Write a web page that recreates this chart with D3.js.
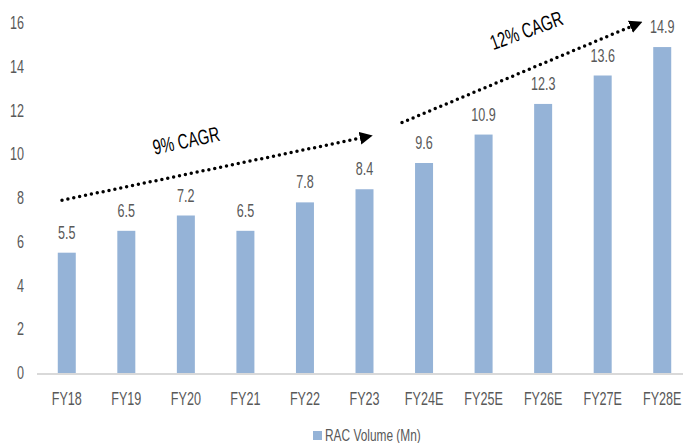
<!DOCTYPE html>
<html>
<head>
<meta charset="utf-8">
<script src="https://cdn.jsdelivr.net/npm/d3@7"></script>
<style>
  body { margin: 0; background: #fff; }
  text { font-family: "Liberation Sans", Arial, sans-serif; }
</style>
</head>
<body>
<div id="chart"></div>
<script>
"use strict";

const years = ['FY18', 'FY19', 'FY20', 'FY21', 'FY22', 'FY23', 'FY24E', 'FY25E', 'FY26E', 'FY27E', 'FY28E'];
const volumes = [5.5, 6.5, 7.2, 6.5, 7.8, 8.4, 9.6, 10.9, 12.3, 13.6, 14.9];
const yTicks = [0, 2, 4, 6, 8, 10, 12, 14, 16];
const seriesName = 'RAC Volume (Mn)';

// arrows given as [band index, value] pairs
const cagrArrows = [
  { label: '9% CAGR', from: [-0.08, 7.9], to: [5.13, 10.85], at: [2.03, 10.3], tilt: -12 },
  { label: '12% CAGR', from: [5.63, 11.45], to: [9.66, 16.05], at: [7.76, 15.35], tilt: -20 }
];

const width = 683;
const height = 443;
const margin = { top: 23, left: 37 };
const baseline = 373;
const squeeze = 0.7; // the reference uses a condensed face

function place(x, y, rot) {
  return 'translate(' + x + ',' + y + ')' + (rot ? ' rotate(' + rot + ')' : '') + ' scale(' + squeeze + ',1)';
}

const svg = d3.select('#chart')
  .append('svg')
  .attr('width', width)
  .attr('height', height);

const x = d3.scaleBand()
  .domain(years)
  .range([margin.left, 692]);

const y = d3.scaleLinear()
  .domain([0, 16])
  .range([baseline, margin.top]);

const xc = i => x(years[0]) + x.bandwidth() * (i + 0.5);

// y tick labels
svg.append('g')
  .selectAll('text')
  .data(yTicks)
  .join('text')
  .attr('transform', d => place(24, y(d) + 6))
  .attr('text-anchor', 'end')
  .attr('fill', '#595959')
  .attr('font-size', 18)
  .text(d => d);

const barW = 18;

svg.append('g')
  .selectAll('rect')
  .data(volumes)
  .join('rect')
  .attr('x', (d, i) => x(years[i]) + x.bandwidth() / 2 - barW / 2)
  .attr('y', d => y(d))
  .attr('width', barW)
  .attr('height', d => y(0) - y(d))
  .attr('fill', '#95b3d7');

// baseline
svg.append('line')
  .attr('x1', margin.left)
  .attr('x2', width)
  .attr('y1', y(0) + 1)
  .attr('y2', y(0) + 1)
  .attr('stroke', '#d9d9d9')
  .attr('stroke-width', 2);

// value labels
svg.append('g')
  .selectAll('text')
  .data(volumes)
  .join('text')
  .attr('transform', (d, i) => place(x(years[i]) + x.bandwidth() / 2, y(d) - 14))
  .attr('text-anchor', 'middle')
  .attr('fill', '#595959')
  .attr('font-size', 18)
  .text(d => d.toFixed(1));

// category labels
svg.append('g')
  .selectAll('text')
  .data(years)
  .join('text')
  .attr('transform', d => place(x(d) + x.bandwidth() / 2, 405))
  .attr('text-anchor', 'middle')
  .attr('fill', '#595959')
  .attr('font-size', 18)
  .text(d => d);

// legend
const legend = svg.append('g').attr('transform', 'translate(313, 431)');
legend.append('rect')
  .attr('width', 9)
  .attr('height', 9)
  .attr('fill', '#95b3d7');
legend.append('text')
  .attr('transform', place(12, 10))
  .attr('fill', '#595959')
  .attr('font-size', 17)
  .text(seriesName);

// CAGR arrows
svg.append('defs')
  .append('marker')
  .attr('id', 'head')
  .attr('viewBox', '0 0 10 10')
  .attr('refX', 2)
  .attr('refY', 5)
  .attr('markerWidth', 13)
  .attr('markerHeight', 13)
  .attr('markerUnits', 'userSpaceOnUse')
  .attr('orient', 'auto')
  .append('path')
  .attr('d', 'M0,0 L10,5 L0,10 Z')
  .attr('fill', '#000');

cagrArrows.forEach(a => {
  let x1 = xc(a.from[0]), y1 = y(a.from[1]);
  let x2 = xc(a.to[0]), y2 = y(a.to[1]);
  let ang = Math.atan2(y2 - y1, x2 - x1);
  // stop dots short of the arrow head
  let ex = x2 - Math.cos(ang) * 10, ey = y2 - Math.sin(ang) * 10;

  svg.append('line')
    .attr('x1', x1).attr('y1', y1)
    .attr('x2', ex).attr('y2', ey)
    .attr('stroke', '#000')
    .attr('stroke-width', 3.5)
    .attr('stroke-linecap', 'round')
    .attr('stroke-dasharray', '0,6');

  svg.append('path')
    .attr('d', 'M' + ex + ',' + ey + 'L' + (ex + Math.cos(ang) * 0.1) + ',' + (ey + Math.sin(ang) * 0.1))
    .attr('stroke', 'none')
    .attr('marker-end', 'url(#head)');

  svg.append('text')
    .attr('transform', place(xc(a.at[0]), y(a.at[1]), a.tilt))
    .attr('text-anchor', 'middle')
    .attr('fill', '#000')
    .attr('font-size', 21)
    .text(a.label);
});
</script>
</body>
</html>
